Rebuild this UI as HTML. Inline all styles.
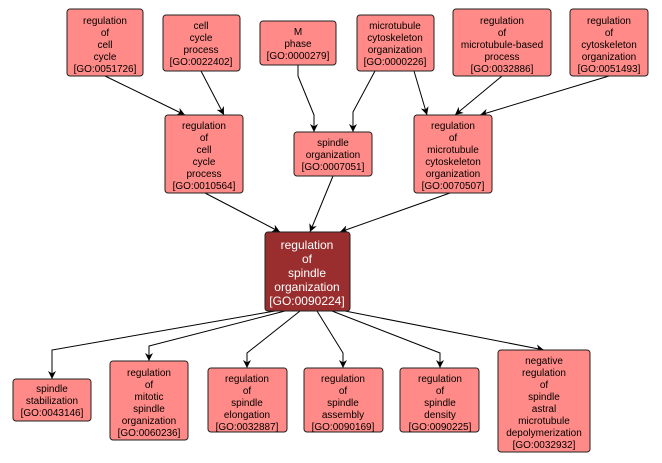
<!DOCTYPE html>
<html><head><meta charset="utf-8"><style>
html,body{margin:0;padding:0;background:#fff;}
svg{display:block;}
text{font-family:"Liberation Sans",sans-serif;font-size:10px;fill:#000;text-anchor:middle;}
.c text{fill:#fff;font-size:12px;}
rect{fill:#ff8a87;stroke:#222;stroke-width:1;}
.c rect{fill:#9a2e2e;}
path.e{fill:none;stroke:#000;stroke-width:1;}
</style></head><body>
<svg width="662" height="463" viewBox="0 0 662 463" xmlns="http://www.w3.org/2000/svg">
<defs><marker id="a" viewBox="0 0 10 10" refX="10" refY="5" markerWidth="8" markerHeight="8" orient="auto"><path d="M0,0 L10,5 L0,10 L3,5 z" fill="#000"/></marker></defs>
<g>
<path class="e" marker-end="url(#a)" d="M105,76 L185,115"/>
<path class="e" marker-end="url(#a)" d="M201,71 L224,115"/>
<path class="e" marker-end="url(#a)" d="M298,65 L298,76 L314,115 L314,132"/>
<path class="e" marker-end="url(#a)" d="M375,71 L353,112 L353,132"/>
<path class="e" marker-end="url(#a)" d="M414,71 L427,115"/>
<path class="e" marker-end="url(#a)" d="M502,76 L455,115"/>
<path class="e" marker-end="url(#a)" d="M609,76 L480,115"/>
<path class="e" marker-end="url(#a)" d="M205,193 L280,232"/>
<path class="e" marker-end="url(#a)" d="M333,176 L310,232"/>
<path class="e" marker-end="url(#a)" d="M450,193 L340,232"/>
<path class="e" marker-end="url(#a)" d="M275,311 L52,350 L52,379"/>
<path class="e" marker-end="url(#a)" d="M285,311 L149,346 L149,361"/>
<path class="e" marker-end="url(#a)" d="M300,311 L247,353 L247,368"/>
<path class="e" marker-end="url(#a)" d="M317,311 L343,353 L343,368"/>
<path class="e" marker-end="url(#a)" d="M332,311 L440,353 L440,368"/>
<path class="e" marker-end="url(#a)" d="M345,311 L544,350"/>
</g>
<g>
<rect x="67" y="9" width="76" height="67" rx="3"/>
<text x="105" y="24">regulation</text><text x="105" y="36">of</text><text x="105" y="48">cell</text><text x="105" y="60">cycle</text><text x="105" y="72">[GO:0051726]</text>
<rect x="163" y="15" width="77" height="56" rx="3"/>
<text x="201" y="29">cell</text><text x="201" y="41">cycle</text><text x="201" y="53">process</text><text x="201" y="65">[GO:0022402]</text>
<rect x="260" y="21" width="76" height="44" rx="3"/>
<text x="298" y="35">M</text><text x="298" y="47">phase</text><text x="298" y="59">[GO:0000279]</text>
<rect x="357" y="15" width="77" height="56" rx="3"/>
<text x="395" y="29">microtubule</text><text x="395" y="41">cytoskeleton</text><text x="395" y="53">organization</text><text x="395" y="65">[GO:0000226]</text>
<rect x="453" y="9" width="98" height="67" rx="3"/>
<text x="502" y="24">regulation</text><text x="502" y="36">of</text><text x="502" y="48">microtubule-based</text><text x="502" y="60">process</text><text x="502" y="72">[GO:0032886]</text>
<rect x="570" y="9" width="78" height="67" rx="3"/>
<text x="609" y="24">regulation</text><text x="609" y="36">of</text><text x="609" y="48">cytoskeleton</text><text x="609" y="60">organization</text><text x="609" y="72">[GO:0051493]</text>
<rect x="165" y="115" width="78" height="78" rx="3"/>
<text x="204" y="129">regulation</text><text x="204" y="141">of</text><text x="204" y="153">cell</text><text x="204" y="165">cycle</text><text x="204" y="177">process</text><text x="204" y="189">[GO:0010564]</text>
<rect x="294" y="132" width="78" height="44" rx="3"/>
<text x="333" y="146">spindle</text><text x="333" y="158">organization</text><text x="333" y="170">[GO:0007051]</text>
<rect x="414" y="115" width="78" height="78" rx="3"/>
<text x="453" y="129">regulation</text><text x="453" y="141">of</text><text x="453" y="153">microtubule</text><text x="453" y="165">cytoskeleton</text><text x="453" y="177">organization</text><text x="453" y="189">[GO:0070507]</text>
<g class="c"><rect x="265" y="232" width="85" height="79" rx="3"/>
<text x="307" y="249">regulation</text><text x="307" y="263">of</text><text x="307" y="277">spindle</text><text x="307" y="291">organization</text><text x="307" y="305">[GO:0090224]</text></g>
<rect x="13" y="379" width="78" height="42" rx="3"/>
<text x="52" y="392">spindle</text><text x="52" y="404">stabilization</text><text x="52" y="416">[GO:0043146]</text>
<rect x="110" y="361" width="78" height="79" rx="3"/>
<text x="149" y="376">regulation</text><text x="149" y="388">of</text><text x="149" y="400">mitotic</text><text x="149" y="412">spindle</text><text x="149" y="424">organization</text><text x="149" y="436">[GO:0060236]</text>
<rect x="208" y="368" width="79" height="64" rx="3"/>
<text x="247" y="382">regulation</text><text x="247" y="394">of</text><text x="247" y="406">spindle</text><text x="247" y="418">elongation</text><text x="247" y="430">[GO:0032887]</text>
<rect x="304" y="368" width="79" height="64" rx="3"/>
<text x="343" y="382">regulation</text><text x="343" y="394">of</text><text x="343" y="406">spindle</text><text x="343" y="418">assembly</text><text x="343" y="430">[GO:0090169]</text>
<rect x="400" y="368" width="79" height="64" rx="3"/>
<text x="440" y="382">regulation</text><text x="440" y="394">of</text><text x="440" y="406">spindle</text><text x="440" y="418">density</text><text x="440" y="430">[GO:0090225]</text>
<rect x="498" y="350" width="92" height="102" rx="3"/>
<text x="544" y="364">negative</text><text x="544" y="376">regulation</text><text x="544" y="388">of</text><text x="544" y="400">spindle</text><text x="544" y="412">astral</text><text x="544" y="424">microtubule</text><text x="544" y="436">depolymerization</text><text x="544" y="448">[GO:0032932]</text>
</g>
</svg>
</body></html>
